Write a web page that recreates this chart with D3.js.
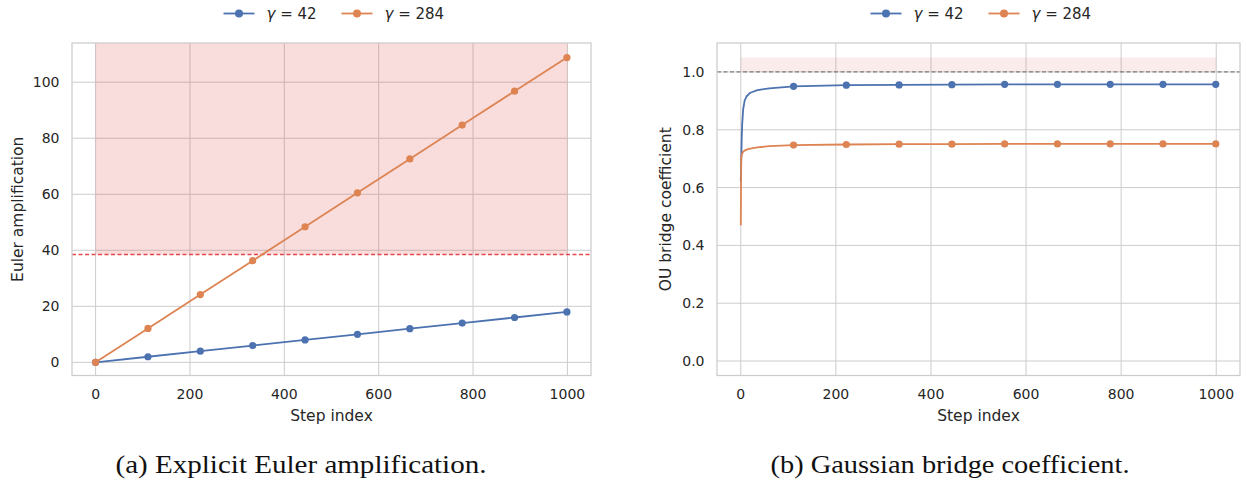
<!DOCTYPE html>
<html>
<head>
<meta charset="utf-8">
<script src="https://cdn.jsdelivr.net/npm/d3@7"></script>
<style>
  body { margin: 0; background: #fff; }
  svg { display: block; font-family: "DejaVu Sans", sans-serif; }
</style>
</head>
<body>
<svg id="fig" width="1246" height="481"></svg>
<script>
// panel (a): Euler amplification, marker points
const eulerSteps = [0, 111, 222, 333, 444, 555, 666, 777, 888, 999];
const euler42 = [0, 2.0, 4.0, 6.0, 8.0, 10.0, 12.0, 14.0, 16.0, 18.0];
const euler284 = [0, 12.1, 24.2, 36.3, 48.4, 60.5, 72.6, 84.7, 96.8, 108.8];
const eulerThreshold = 38.5;

// panel (b): OU bridge coefficient curve
const bridgeSteps = [0, 1, 2, 3, 5, 8, 12, 20, 35, 60, 111, 222, 333, 444, 555, 666, 777, 888, 999];
const bridge42 = [0.62, 0.70, 0.77, 0.82, 0.87, 0.90, 0.915, 0.928, 0.937, 0.943, 0.950, 0.954, 0.955, 0.956, 0.957, 0.957, 0.957, 0.957, 0.957];
const bridge284 = [0.47, 0.70, 0.712, 0.718, 0.724, 0.728, 0.731, 0.735, 0.739, 0.743, 0.747, 0.749, 0.750, 0.750, 0.751, 0.751, 0.751, 0.751, 0.751];
const bridgeMarkerSteps = [111, 222, 333, 444, 555, 666, 777, 888, 999];
const bridgeBand = [1.0, 1.05];

const xTicks = [0, 200, 400, 600, 800, 1000];
const eulerYTicks = [0, 20, 40, 60, 80, 100];
const bridgeYTicks = [0, 0.2, 0.4, 0.6, 0.8, 1.0];
const legendLabels = ['42', '284'];

const BLUE = '#4c72b0', ORANGE = '#dd8452', GRID = '#cccccc';
const svg = d3.select('#fig');

function panel(opts) {
    const g = svg.append('g');
    const x = d3.scaleLinear().domain([-50, 1050]).range([opts.left, opts.right]);
    const y = d3.scaleLinear().domain(opts.ydom).range([opts.bottom, opts.top]);

    // grid
    g.selectAll('.gx').data(xTicks).enter().append('line')
        .attr('x1', d => x(d)).attr('x2', d => x(d))
        .attr('y1', opts.top).attr('y2', opts.bottom)
        .attr('stroke', GRID).attr('stroke-width', 1);
    g.selectAll('.gy').data(opts.yticks).enter().append('line')
        .attr('x1', opts.left).attr('x2', opts.right)
        .attr('y1', d => y(d)).attr('y2', d => y(d))
        .attr('stroke', GRID).attr('stroke-width', 1);

    opts.decor(g, x, y);

    // series
    const line = d3.line().x(d => x(d[0])).y(d => y(d[1]));
    opts.series.forEach(s => {
        g.append('path').datum(d3.zip(s.xs, s.ys))
            .attr('d', line).attr('fill', 'none')
            .attr('stroke', s.color).attr('stroke-width', 1.8)
            .attr('stroke-linejoin', 'round');
        g.selectAll(null).data(d3.zip(s.mx, s.my)).enter().append('circle')
            .attr('cx', d => x(d[0])).attr('cy', d => y(d[1]))
            .attr('r', 3.6).attr('fill', s.color);
    });

    // frame
    g.append('rect')
        .attr('x', opts.left).attr('y', opts.top)
        .attr('width', opts.right - opts.left).attr('height', opts.bottom - opts.top)
        .attr('fill', 'none').attr('stroke', GRID).attr('stroke-width', 1.25);

    // ticks
    g.selectAll('.tx').data(xTicks).enter().append('text')
        .attr('x', d => x(d)).attr('y', 399)
        .attr('text-anchor', 'middle').attr('font-size', 14).attr('fill', '#262626')
        .text(d => d);
    g.selectAll('.ty').data(opts.yticks).enter().append('text')
        .attr('x', opts.left - 12.5).attr('y', d => y(d) + 5)
        .attr('text-anchor', 'end').attr('font-size', 14).attr('fill', '#262626')
        .text(opts.yfmt);

    const cx = (opts.left + opts.right) / 2;
    const cy = (opts.top + opts.bottom) / 2;
    g.append('text').attr('x', cx).attr('y', 421)
        .attr('text-anchor', 'middle').attr('font-size', 15.5).attr('fill', '#262626')
        .text('Step index');
    g.append('text').attr('transform', `translate(${opts.ylabelX},${cy}) rotate(-90)`)
        .attr('text-anchor', 'middle').attr('font-size', 15.5).attr('fill', '#262626')
        .text(opts.ylabel);

    // legend
    [BLUE, ORANGE].forEach((c, i) => {
        const x0 = cx + (i === 0 ? -108 : 10);
        g.append('line').attr('x1', x0).attr('x2', x0 + 31).attr('y1', 13.5).attr('y2', 13.5)
            .attr('stroke', c).attr('stroke-width', 1.8);
        g.append('circle').attr('cx', x0 + 15.5).attr('cy', 13.5).attr('r', 4).attr('fill', c);
        const t = g.append('text').attr('x', x0 + 43).attr('y', 18.5)
            .attr('font-size', 15).attr('fill', '#262626');
        t.append('tspan').attr('font-style', 'italic').text('γ');
        t.append('tspan').text(' = ' + legendLabels[i]);
    });

    // caption
    svg.append('text').attr('x', opts.capX).attr('y', 473)
        .attr('text-anchor', 'middle')
        .attr('font-family', '"Liberation Serif", serif').attr('font-size', 24.5)
        .attr('textLength', opts.capW).attr('lengthAdjust', 'spacingAndGlyphs')
        .attr('fill', '#111').text(opts.caption);
}

panel({
    left: 72, right: 591, top: 43, bottom: 375.5,
    ydom: [-4.7, 114], yticks: eulerYTicks, yfmt: d => d,
    ylabel: 'Euler amplification', ylabelX: 23,
    caption: '(a) Explicit Euler amplification.', capX: 301, capW: 371,
    decor: (g, x, y) => {
        g.append('rect')
            .attr('x', x(0)).attr('width', x(1000) - x(0))
            .attr('y', y(114)).attr('height', y(eulerThreshold) - y(114))
            .attr('fill', '#e03c3c').attr('opacity', 0.18);
        g.append('line')
            .attr('x1', x(-50)).attr('x2', x(1050))
            .attr('y1', y(eulerThreshold)).attr('y2', y(eulerThreshold))
            .attr('stroke', '#e8474a').attr('stroke-width', 1.4)
            .attr('stroke-dasharray', '4,2.5');
    },
    series: [
        { xs: eulerSteps, ys: euler42, mx: eulerSteps, my: euler42, color: BLUE },
        { xs: eulerSteps, ys: euler284, mx: eulerSteps, my: euler284, color: ORANGE }
    ]
});

panel({
    left: 717, right: 1240, top: 43, bottom: 375.5,
    ydom: [-0.05, 1.1], yticks: bridgeYTicks, yfmt: d => d.toFixed(1),
    ylabel: 'OU bridge coefficient', ylabelX: 671,
    caption: '(b) Gaussian bridge coefficient.', capX: 950, capW: 359,
    decor: (g, x, y) => {
        g.append('rect')
            .attr('x', x(0)).attr('width', x(1000) - x(0))
            .attr('y', y(bridgeBand[1])).attr('height', y(bridgeBand[0]) - y(bridgeBand[1]))
            .attr('fill', '#e06060').attr('opacity', 0.12);
        g.append('line')
            .attr('x1', x(-50)).attr('x2', x(1050))
            .attr('y1', y(1.0)).attr('y2', y(1.0))
            .attr('stroke', '#666').attr('stroke-width', 1)
            .attr('stroke-dasharray', '4,2.5');
    },
    series: [
        { xs: bridgeSteps, ys: bridge42, mx: bridgeMarkerSteps,
          my: bridgeMarkerSteps.map(s => bridge42[bridgeSteps.indexOf(s)]), color: BLUE },
        { xs: bridgeSteps, ys: bridge284, mx: bridgeMarkerSteps,
          my: bridgeMarkerSteps.map(s => bridge284[bridgeSteps.indexOf(s)]), color: ORANGE }
    ]
});
</script>
</body>
</html>
